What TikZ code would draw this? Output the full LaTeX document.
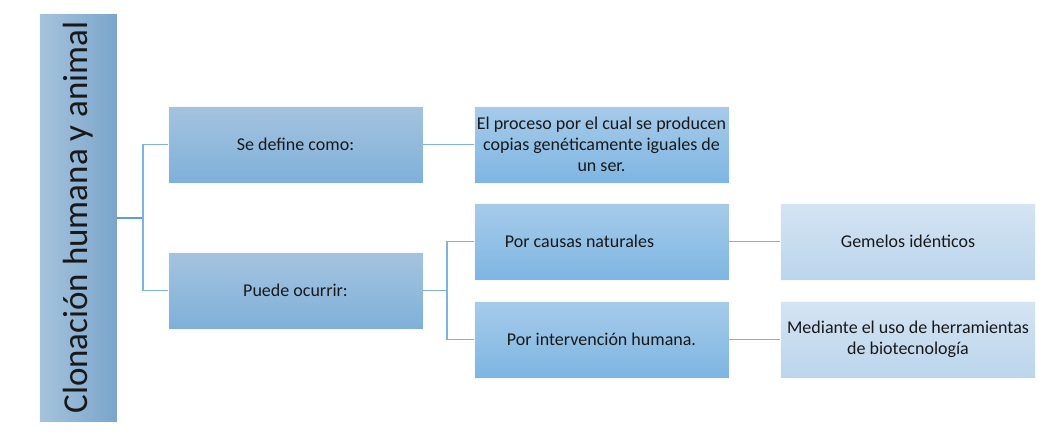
\documentclass[tikz,border=0pt]{standalone}
\usepackage{fontspec}
\setmainfont{Carlito}
\begin{document}
\begin{tikzpicture}[x=1pt,y=-1pt,
  box/.style={draw=white!70!blue!8, line width=0.8pt, inner sep=0pt, font=\fontsize{18}{21}\selectfont, align=center, text=black!90},
  lvlone/.style={box, top color=blue1t, bottom color=blue1b},
  lvltwo/.style={box, top color=blue2t, bottom color=blue2b},
  lvlthree/.style={box, top color=blue3t, bottom color=blue3b},
  conn/.style={draw=connc, line width=1.4pt},
  mainconn/.style={draw=connm, line width=2pt}]
\definecolor{blue1t}{HTML}{A5C3DF}
\definecolor{blue1b}{HTML}{7FB0D9}
\definecolor{blue2t}{HTML}{A7CBEA}
\definecolor{blue2b}{HTML}{7DB6E2}
\definecolor{blue3t}{HTML}{D4E4F3}
\definecolor{blue3b}{HTML}{BBD5EC}
\definecolor{maint}{HTML}{A6C3DD}
\definecolor{mainb}{HTML}{7AA5CB}
\definecolor{connc}{HTML}{7DB3E0}
\definecolor{connm}{HTML}{5C9FD8}
\useasboundingbox (0,0) rectangle (1063,445);
\node[box, rotate=90, left color=maint, right color=mainb, minimum width=409pt, minimum height=78pt,
  font=\fontsize{35}{40}\selectfont] (main) at (78,217.5) {Clonación humana y animal};
\node[lvlone, minimum width=255pt, minimum height=77pt] (a) at (295.5,144.5) {Se define como:};
\node[lvlone, minimum width=255pt, minimum height=77pt] (b) at (295.5,290.5) {Puede ocurrir:};
\node[lvltwo, minimum width=255pt, minimum height=77pt] (def) at (601.5,144.5) {El proceso por el cual se producen\\copias genéticamente iguales de\\un ser.};
\node[lvltwo, minimum width=255pt, minimum height=77pt] (c) at (601.5,241.5) {Por causas naturales\hspace*{44pt}};
\node[lvltwo, minimum width=255pt, minimum height=77pt] (d) at (601.5,339.5) {Por intervención humana.};
\node[lvlthree, minimum width=255pt, minimum height=77pt] (e) at (908,241.5) {Gemelos idénticos};
\node[lvlthree, minimum width=255pt, minimum height=77pt] (f) at (908,339.5) {Mediante el uso de herramientas\\de biotecnología};
\coordinate (j1) at (143,217.5);
\coordinate (j2) at (447,290.5);
\draw[mainconn] (main.south) -- (j1);
\draw[conn] (j1) |- (a.west);
\draw[conn] (j1) |- (b.west);
\draw[conn] (a.east) -- (def.west);
\draw[conn] (b.east) -- (j2);
\draw[conn] (j2) |- (c.west);
\draw[conn] (j2) |- (d.west);
\draw[conn] (c.east) -- (e.west);
\draw[conn] (d.east) -- (f.west);
\end{tikzpicture}
\end{document}
